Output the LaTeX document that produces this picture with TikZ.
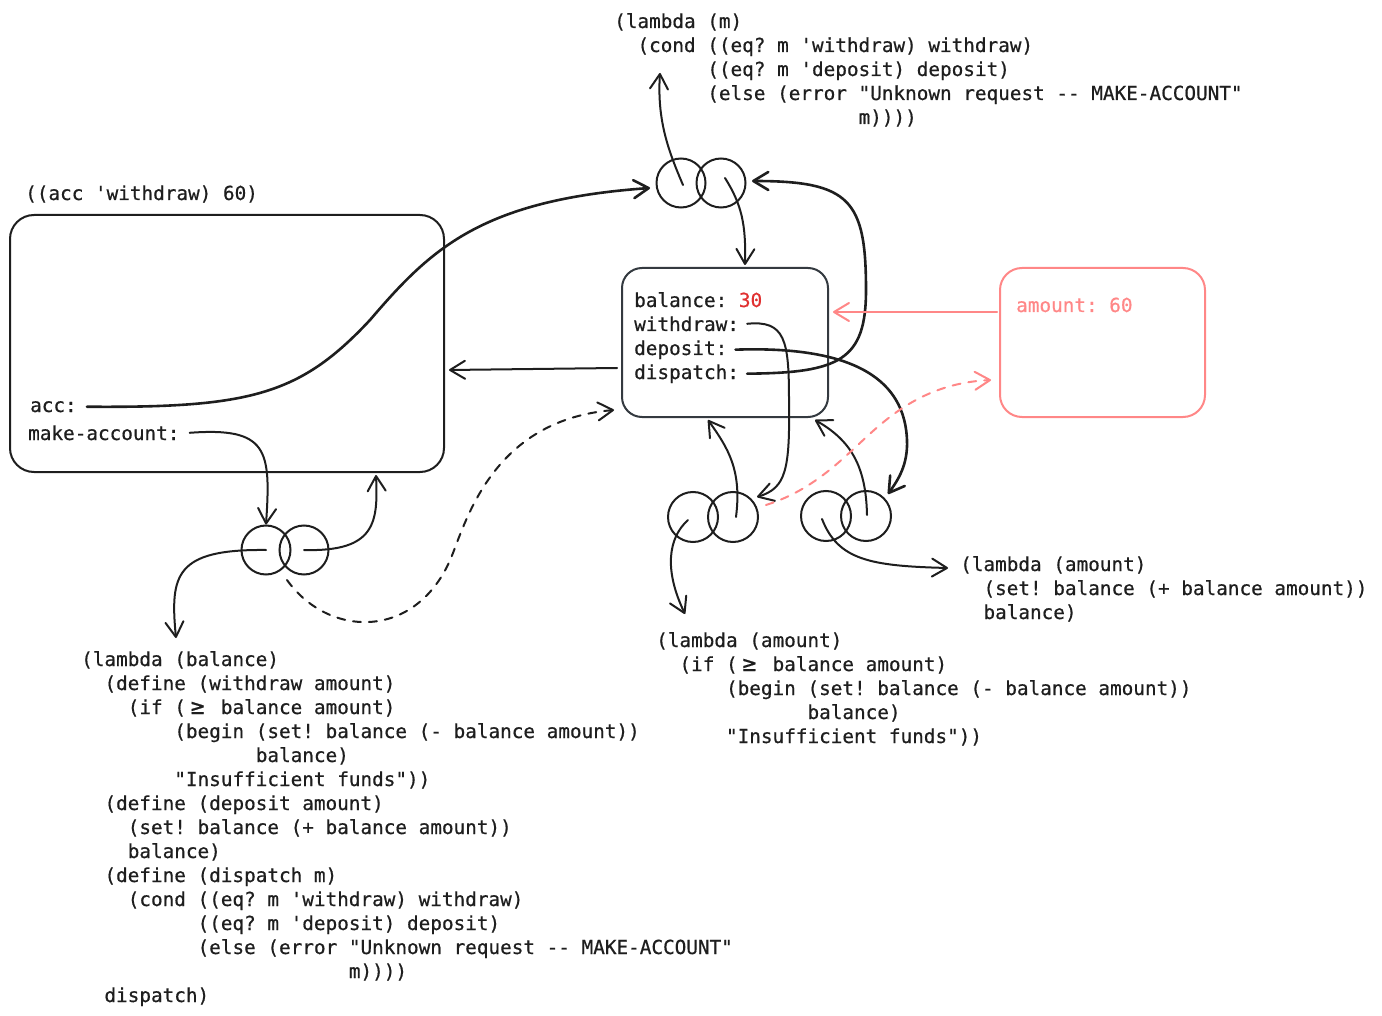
\documentclass[tikz,border=0pt]{standalone}
\usepackage{fontspec}
\setmonofont{DejaVu Sans Mono}[FakeBold=0.6]
\usetikzlibrary{arrows.meta}
\newlength\cw \setlength\cw{11.64pt}
\newcommand\ind[1]{\hspace*{#1\cw}}
\newcommand\gee{\makebox[2\cw][c]{\fontsize{23}{24}\selectfont ≥}}
\newcommand\cblock[1]{\vtop{\baselineskip=24pt\lineskiplimit=-100pt\lineskip=0pt #1}}
\definecolor{ink}{HTML}{1E1E1E}
\definecolor{pinkc}{HTML}{FF8787}
\definecolor{redc}{HTML}{E03131}
\definecolor{framec}{HTML}{343A40}
\tikzset{
  code/.style={font=\ttfamily\fontsize{19.33}{24}\selectfont, inner sep=0pt, anchor=base west, text=ink},
  envbox/.style={draw=ink, line width=2pt, rounded corners=24pt, inner sep=0pt},
  ring/.style={circle, draw=ink, line width=2pt, minimum size=49pt, inner sep=0pt},
  tipb/.tip={Straight Barb[length=15pt,width=18pt,round]},
  arr/.style={draw=ink, line width=2pt, line cap=round, -tipb},
  thickarr/.style={arr, line width=2.6pt},
  dasharr/.style={arr, dash pattern=on 8pt off 8pt},
  pinkarr/.style={arr, draw=pinkc},
}
\begin{document}
\begin{tikzpicture}[x=1pt,y=-1pt]
\useasboundingbox (0,0) rectangle (1382,1016);

% environment boxes
\node[envbox, minimum width=434pt, minimum height=257pt] (genv) at (227,343.5) {};
\node[envbox, draw=framec, rounded corners=20pt, minimum width=206pt, minimum height=149pt] (eone) at (725,342.5) {};
\node[envbox, draw=pinkc, rounded corners=22pt, minimum width=205pt, minimum height=149pt] (etwo) at (1102.5,342.5) {};

% labels
\node[code] (call) at (25,200) {((acc 'withdraw) 60)};
\node[code] (lacc) at (30,412) {acc:};
\node[code] (lmk) at (28,440) {make-account:};
\node[code] (lbal) at (634,307) {balance: \textcolor{redc}{30}};
\node[code] (lwd) at (634,331) {withdraw:};
\node[code] (ldep) at (634,355) {deposit:};
\node[code] (ldis) at (634,379) {dispatch:};
\node[code, text=pinkc] (lamt) at (1016,312) {amount: 60};

% code blocks
\node[code] (lamm) at (614,28) {\cblock{
  \hbox{(lambda (m)}
  \hbox{\ind{2}(cond ((eq? m 'withdraw) withdraw)}
  \hbox{\ind{8}((eq? m 'deposit) deposit)}
  \hbox{\ind{8}(else (error "Unknown request -- MAKE-ACCOUNT"}
  \hbox{\ind{21}m))))}}};

\node[code] (lamb) at (81,666) {\cblock{
  \hbox{(lambda (balance)}
  \hbox{\ind{2}(define (withdraw amount)}
  \hbox{\ind{4}(if ({\gee} balance amount)}
  \hbox{\ind{8}(begin (set! balance (- balance amount))}
  \hbox{\ind{15}balance)}
  \hbox{\ind{8}"Insufficient funds"))}
  \hbox{\ind{2}(define (deposit amount)}
  \hbox{\ind{4}(set! balance (+ balance amount))}
  \hbox{\ind{4}balance)}
  \hbox{\ind{2}(define (dispatch m)}
  \hbox{\ind{4}(cond ((eq? m 'withdraw) withdraw)}
  \hbox{\ind{10}((eq? m 'deposit) deposit)}
  \hbox{\ind{10}(else (error "Unknown request -- MAKE-ACCOUNT"}
  \hbox{\ind{23}m))))}
  \hbox{\ind{2}dispatch)}}};

\node[code] (lamw) at (656,647) {\cblock{
  \hbox{(lambda (amount)}
  \hbox{\ind{2}(if ({\gee} balance amount)}
  \hbox{\ind{6}(begin (set! balance (- balance amount))}
  \hbox{\ind{13}balance)}
  \hbox{\ind{6}"Insufficient funds"))}}};

\node[code] (lamd) at (960,571) {\cblock{
  \hbox{(lambda (amount)}
  \hbox{\ind{2}(set! balance (+ balance amount))}
  \hbox{\ind{2}balance)}}};

% procedure objects
\node[ring] (mkone) at (266,550) {};
\node[ring] (mktwo) at (304,550) {};
\node[ring] (dpone) at (681,183) {};
\node[ring] (dptwo) at (721,183) {};
\node[ring, minimum size=50pt] (wdone) at (693,517) {};
\node[ring, minimum size=50pt] (wdtwo) at (733,517) {};
\node[ring, minimum size=50pt] (deone) at (826,516) {};
\node[ring, minimum size=50pt] (detwo) at (866,516) {};

% connector end points
\coordinate (gbot) at (376,475);
\coordinate (gright) at (449,370);
\coordinate (eoneL) at (617,368);
\coordinate (eoneLd) at (614,410);
\coordinate (eoneT) at (745,265);
\coordinate (eoneR) at (833,312);
\coordinate (etwoL) at (997,312);
\coordinate (etwoLd) at (991,380);
\coordinate (eoneBl) at (708,420);
\coordinate (eoneBr) at (815,420);
\coordinate (dpin) at (650,188);
\coordinate (dpinr) at (752,181);
\coordinate (lamtop) at (660,73);
\coordinate (lambtop) at (176,638);
\coordinate (lamwtop) at (685,614);
\coordinate (lamdleft) at (948,568);
\coordinate (wdin) at (757,497);
\coordinate (dein) at (888,494);
\coordinate (mkdash) at (287,580);
\coordinate (wddash) at (766,505);

% connectors
\draw[thickarr] ([xshift=10pt]lacc.east) .. controls (250,408) and (300,395) .. (370,320)
   .. controls (430,250) and (480,200) .. (dpin);
\draw[arr] ([xshift=10pt]lmk.east) .. controls (268,427) and (271,450) .. (mkone.north);
\draw[arr] (mktwo.center) .. controls (376,552) and (378,522) .. (gbot);
\draw[arr] (mkone.center) .. controls (175,549) and (170,575) .. (lambtop);
\draw[dasharr] (mkdash) .. controls (330,640) and (420,640) .. (453,553)
   .. controls (470,508) and (500,420) .. (eoneLd);
\draw[arr] (eoneL) -- (gright);
\draw[arr] ([xshift=2pt,yshift=-2pt]dpone.center) .. controls (668,150) and (657,120) .. (lamtop);
\draw[arr] ([xshift=4pt,yshift=5pt]dptwo.center) .. controls (742,205) and (746,225) .. (eoneT);
\draw[thickarr] ([xshift=8pt]ldis.east) .. controls (840,373) and (866,360) .. (866,290)
   .. controls (866,200) and (850,181) .. (dpinr);
\draw[arr] ([xshift=8pt]lwd.east) .. controls (785,320) and (789,340) .. (789,400)
   .. controls (790,470) and (786,488) .. (wdin);
\draw[thickarr] ([xshift=8pt]ldep.east) .. controls (870,345) and (905,390) .. (907,440)
   .. controls (908,465) and (898,480) .. (dein);
\draw[arr] ([xshift=3pt]wdtwo.center) .. controls (742,470) and (728,448) .. (eoneBl);
\draw[arr] ([xshift=-5pt,yshift=-3pt]wdone.center) .. controls (668,538) and (664,570) .. (lamwtop);
\draw[arr] ([xshift=1pt,yshift=1pt]detwo.center) .. controls (866,465) and (850,440) .. (eoneBr);
\draw[arr] ([xshift=-4pt,yshift=-3pt]deone.center) .. controls (838,560) and (870,566) .. (lamdleft);
\draw[pinkarr] (etwoL) -- (eoneR);
\draw[pinkarr, dash pattern=on 8pt off 8pt] (wddash) .. controls (820,488) and (850,450) .. (880,425)
   .. controls (915,395) and (950,382) .. (etwoLd);
\end{tikzpicture}
\end{document}
